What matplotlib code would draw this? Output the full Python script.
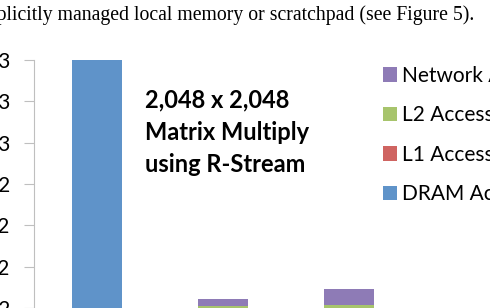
import matplotlib
matplotlib.use("Agg")
import matplotlib.pyplot as plt
import numpy as np

# Data (bars are stacked: DRAM, L1, L2, Network)
categories = ["Cache", "Scratchpad", "Scratchpad + Net"]
dram = [1.4e13, 0.3e12, 0.3e12]
l1 = [0.0, 1.0e12, 1.0e12]
l2 = [0.0, 0.8e12, 0.85e12]
network = [0.0, 0.34e12, 0.77e12]
series_names = ["DRAM Accesses", "L1 Accesses", "L2 Accesses", "Network Accesses"]
colors = ["#5f93c9", "#cf6461", "#a7c46c", "#8e7bb6"]
yticks = [0, 2e12, 4e12, 6e12, 8e12, 1.0e13, 1.2e13, 1.4e13]
ytick_labels = ["0.0E+00", "2.0E+12", "4.0E+12", "6.0E+12", "8.0E+12",
                "1.0E+13", "1.2E+13", "1.4E+13"]
title = "2,048 x 2,048\nMatrix Multiply\nusing R-Stream"
caption = "explicitly managed local memory or scratchpad (see Figure 5)."

W, H = 490, 308
fig = plt.figure(figsize=(W / 100, H / 100), dpi=100)

# the chart is cropped: axes run past the bottom of the picture
left, right = 34, 412
top, zero = 60, 349.3
ax = fig.add_axes([left / W, 1 - zero / H, (right - left) / W, (zero - top) / H])

x = np.arange(len(categories))
bottom = np.zeros(len(categories))
handles = []
for vals, name, c in zip([dram, l1, l2, network], series_names, colors):
    b = ax.bar(x, vals, width=0.4, bottom=bottom, color=c, label=name)
    handles.append(b)
    bottom += np.array(vals)

ax.set_xlim(-0.5, 2.5)
ax.set_ylim(0, 1.4e13)
ax.set_yticks(yticks)
ax.set_yticklabels(ytick_labels, fontsize=15, family="Lato")
ax.set_xticks([])
for s in ["top", "right", "bottom"]:
    ax.spines[s].set_visible(False)
ax.spines["left"].set_color("#bfbfbf")
ax.tick_params(axis="y", length=7, color="#bfbfbf", pad=10)

fig.text(145 / W, 1 - 88 / H, title, fontsize=17, fontweight="bold",
         family="Lato", va="top", ha="left", linespacing=1.5)

fig.legend(handles[::-1], series_names[::-1], loc="upper left",
           bbox_to_anchor=(383 / W, 1 - 66 / H), frameon=False,
           prop={"family": "Lato", "size": 15},
           handlelength=0.65, handleheight=0.7, handletextpad=0.25,
           labelspacing=0.93, borderpad=0, borderaxespad=0)

fig.text(-21.5 / W, 1 - 20 / H, caption, fontsize=14.25, family="Liberation Serif",
         va="baseline", ha="left")

fig.savefig("out.png", dpi=100)
